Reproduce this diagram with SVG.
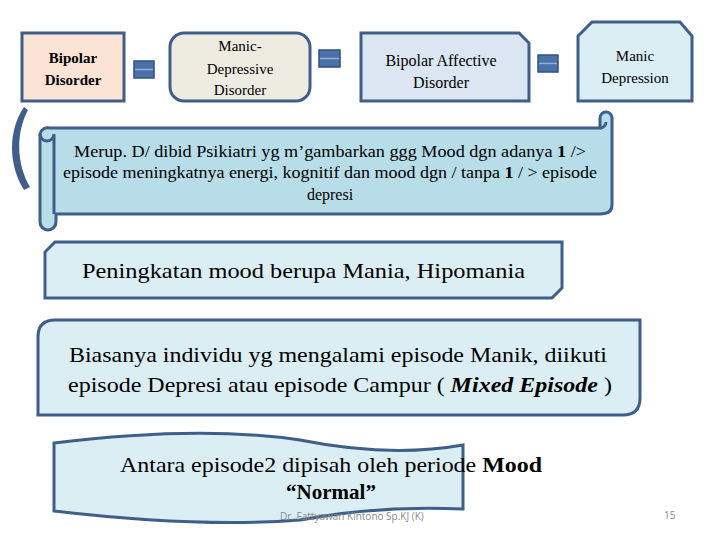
<svg xmlns="http://www.w3.org/2000/svg" width="720" height="540" viewBox="0 0 720 540">
<style>
.s{stroke:#3f5f8a;stroke-width:3}
.t{font-family:'Liberation Serif','Times New Roman',serif;fill:#000;text-anchor:middle}
.eq{fill:#4a72a8;stroke:#2f5283;stroke-width:1.5}
.eqw{stroke:#8fb0d8;stroke-width:1.5}
</style>
<rect width="720" height="540" fill="#fff"/>
<g id="n1"><rect class="s" x="22" y="33" width="102" height="68" fill="#fbe4d5"/>
<text class="t" x="73" y="63" font-size="15" font-weight="bold">Bipolar</text><text class="t" x="73" y="85" font-size="15" font-weight="bold">Disorder</text></g>
<g id="n2"><rect class="s" x="170" y="33" width="140" height="68" rx="14" fill="#eeece1"/>
<text class="t" x="240" y="51" font-size="15">Manic-</text><text class="t" x="240" y="74" font-size="15">Depressive</text><text class="t" x="240" y="95" font-size="15">Disorder</text></g>
<g id="n3"><path class="s" d="M361 33H519L529 43V101H361Z" fill="#dce6f2"/>
<text class="t" x="441" y="66" font-size="16">Bipolar Affective</text><text class="t" x="441" y="88" font-size="16">Disorder</text></g>
<g id="n4"><path class="s" d="M592 22H680L692 36V101H578V36Z" fill="#dbeef4"/>
<text class="t" x="635" y="61" font-size="15">Manic</text><text class="t" x="635" y="83" font-size="15">Depression</text></g>
<g id="connectors">
<g><rect class="eq" x="134" y="61" width="20" height="17"/><line class="eqw" x1="135" y1="69.5" x2="153" y2="69.5"/></g>
<g><rect class="eq" x="319" y="50" width="21" height="17"/><line class="eqw" x1="320" y1="58.5" x2="339" y2="58.5"/></g>
<g><rect class="eq" x="538" y="55" width="20" height="17"/><line class="eqw" x1="539" y1="63.5" x2="557" y2="63.5"/></g>
<path d="M24 107C8 130 8 165 24 190L30 187C16 163 16 132 28 110Z" fill="#3f5f8a"/>
</g>
<g id="n5">
<path class="s" d="M50 128H600V118A6 6 0 0 1 612 118V205C612 212 606 214 600 214H56V222A8 8 0 0 1 40 222V134A8 8 0 0 1 50 128Z" fill="#b7dde8"/>
<path class="s" d="M40 134A7 7 0 0 0 54 134V214" fill="none" stroke-width="2"/>
<path class="s" d="M600 128A6 6 0 0 0 606 122" fill="none" stroke-width="2"/>
<text class="t" x="330" y="157" font-size="16" textLength="512" lengthAdjust="spacingAndGlyphs">Merup. D/ dibid Psikiatri yg m’gambarkan ggg Mood dgn adanya <tspan font-weight="bold">1</tspan> /&gt;</text>
<text class="t" x="330" y="178" font-size="16" textLength="534" lengthAdjust="spacingAndGlyphs">episode meningkatnya energi, kognitif dan mood dgn / tanpa <tspan font-weight="bold">1</tspan> / &gt; episode</text>
<text class="t" x="330" y="200" font-size="16">depresi</text></g>
<g id="n6"><path class="s" d="M55 242H562V288L552 298H45V252Z" fill="#dbeef4"/>
<text x="82" y="278" font-family="'Liberation Serif','Times New Roman',serif" font-size="21" textLength="443" lengthAdjust="spacingAndGlyphs">Peningkatan mood berupa  Mania, Hipomania</text></g>
<g id="n7"><path class="s" d="M55 320H640V398Q640 415 623 415H38V337Q38 320 55 320Z" fill="#dbeef4"/>
<text class="t" x="338" y="362" font-size="21" textLength="538" lengthAdjust="spacingAndGlyphs">Biasanya individu yg mengalami episode Manik, diikuti</text>
<text class="t" x="340" y="392" font-size="21" textLength="544" lengthAdjust="spacingAndGlyphs">episode Depresi atau episode Campur ( <tspan font-weight="bold" font-style="italic">Mixed Episode</tspan> )</text></g>
<g id="n8"><path class="s" d="M54 443Q200 425 300 440Q390 458 463 445V509Q380 505 300 520Q200 528 54 511Z" fill="#dbeef4"/>
<text class="t" x="331" y="472" font-size="21" textLength="422" lengthAdjust="spacingAndGlyphs">Antara episode2 dipisah oleh periode <tspan font-weight="bold">Mood</tspan></text>
<text class="t" x="331" y="499" font-size="21" font-weight="bold">“Normal”</text></g>
<text x="280" y="520" font-family="'Open Sans',sans-serif" font-size="10" fill="#8a8a8a">Dr. Fattyawan Kintono Sp.KJ (K)</text>
<text x="664" y="519" font-family="'Open Sans',sans-serif" font-size="10" fill="#8a8a8a">15</text>
</svg>
